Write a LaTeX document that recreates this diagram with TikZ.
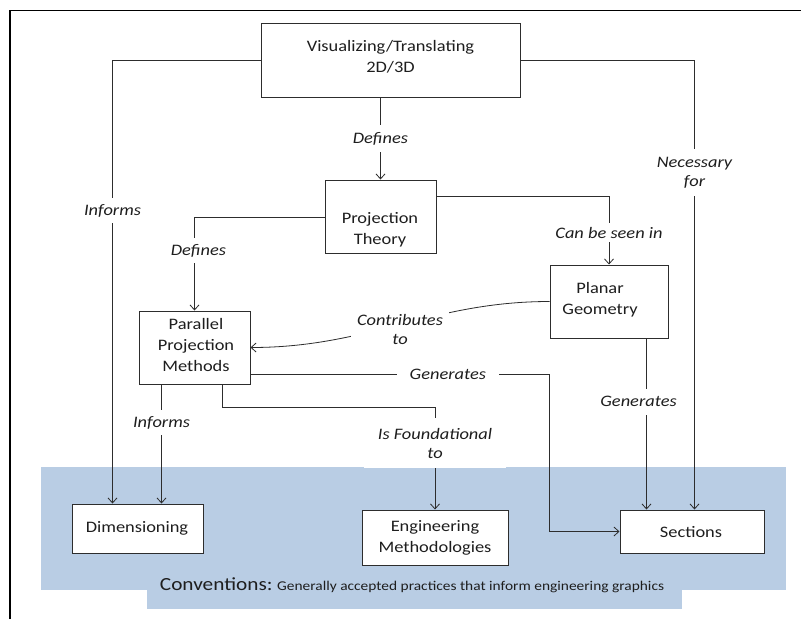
\documentclass[tikz,border=0pt]{standalone}
\usepackage{fontspec}
\setmainfont{Carlito}[FakeStretch=1.15]
\usetikzlibrary{arrows.meta}
\definecolor{band}{RGB}{185,205,228}
\definecolor{ln}{RGB}{45,45,45}
\definecolor{tx}{RGB}{30,30,30}
\newcommand\mybfont{\fontsize{16}{21}\selectfont}
\newcommand\mylfont{\fontsize{16}{19}\selectfont\itshape}
\begin{document}
\begin{tikzpicture}[x=1pt,y=-1pt,
  box/.style={draw=ln, line width=1pt, fill=white, inner sep=0pt},
  btxt/.style={font=\mybfont, align=center, inner sep=0pt, text=tx},
  lbl/.style={font=\mylfont, align=center, fill=white, inner xsep=8pt, inner ysep=6pt, text=tx},
  conn/.style={draw=ln, line width=0.8pt},
  arr/.style={conn, -{Straight Barb[length=5pt,width=9pt]}}]
\useasboundingbox (0,0) rectangle (801,619);
\fill[white] (0,0) rectangle (801,619);
% conventions band
\fill[band] (41,467) rectangle (786,590);
\fill[band] (147,589) rectangle (682,609);
\node[font=\fontsize{13.4}{15}\selectfont, text=tx, inner sep=0pt] (conv) at (412,585)
  {{\fontsize{18.5}{20}\selectfont Conventions:} Generally accepted practices that inform engineering graphics};
% frame
\draw[line width=1.8pt] (10,619) -- (10,10.5) -- (801,10.5);
% boxes
\node[box, minimum width=259pt, minimum height=74pt] (top) at (390.5,60) {};
\node[btxt] (toptxt) at (390.5,57) {Visualizing/Translating\\2D/3D};
\node[box, minimum width=111pt, minimum height=73pt] (proj) at (380.5,216.5) {};
\node[btxt] (projtxt) at (380,229.5) {Projection\\Theory};
\node[box, minimum width=118pt, minimum height=73pt] (planar) at (609,301.5) {};
\node[btxt] (planartxt) at (600,300) {Planar\\Geometry};
\node[box, minimum width=111pt, minimum height=73pt] (parallel) at (194.5,347.5) {};
\node[btxt] (paralleltxt) at (196,345) {Parallel\\Projection\\Methods};
\node[box, minimum width=131pt, minimum height=49pt] (dim) at (137.5,528.5) {};
\node[btxt] (dimtxt) at (137,528) {Dimensioning};
\node[box, minimum width=146pt, minimum height=55pt] (eng) at (435,537.5) {};
\node[btxt] (engtxt) at (435,538) {Engineering\\Methodologies};
\node[box, minimum width=144pt, minimum height=43pt] (sec) at (692,531.5) {};
\node[btxt] (sectxt) at (691,532) {Sections};
% helper coordinates
\coordinate (pg) at ([xshift=-22pt]planar.south east);
\coordinate (pp1) at ([xshift=23pt]parallel.south west);
\coordinate (pp2) at ([xshift=84pt]parallel.south west);
% connectors
\draw[arr] (top.west) -| node[lbl,pos=0.67] (lInf1) {Informs} ([xshift=41pt]dim.north west);
\draw[arr] (top.east) -| node[lbl,pos=0.625,inner ysep=8pt] (lNec) {Necessary\\for} ([xshift=75pt]sec.north west);
\draw[arr] (proj.north |- top.south) -- node[lbl,inner ysep=7pt] (lDef1) {Defines} (proj.north);
\draw[arr] ([yshift=-17pt]proj.north east) -| node[lbl,pos=0.765,inner ysep=4pt] (lCan) {Can be seen in} (planar.north);
\draw[arr] ([yshift=-38pt]proj.north west) -| node[lbl,pos=0.677,xshift=4pt] (lDef2) {Defines} (parallel.north);
\draw[arr] (planar.west) to[out=180,in=0] node[lbl,pos=0.5,yshift=-4.5pt,inner xsep=6pt] (lCon) {Contributes\\to} (parallel.east);
\draw[arr] ([yshift=-26.5pt]parallel.east) -| node[lbl,pos=0.33,inner xsep=13pt] (lGen1) {Generates} ([xshift=-70pt]sec.west) -- (sec.west);
\draw[arr] (pg) -- node[lbl,pos=0.37,xshift=-8pt,inner ysep=8pt] (lGen2) {Generates} (pg |- sec.north);
\draw[arr] (pp1) -- node[lbl,pos=0.32] (lInf2) {Informs} (pp1 |- dim.north);
\draw[arr] (pp2) |- ([yshift=102pt]eng.north) -- node[lbl,pos=0.35,inner xsep=14pt,inner ysep=10pt] (lIsF) {Is Foundational\\to} (eng.north);
\end{tikzpicture}
\end{document}
